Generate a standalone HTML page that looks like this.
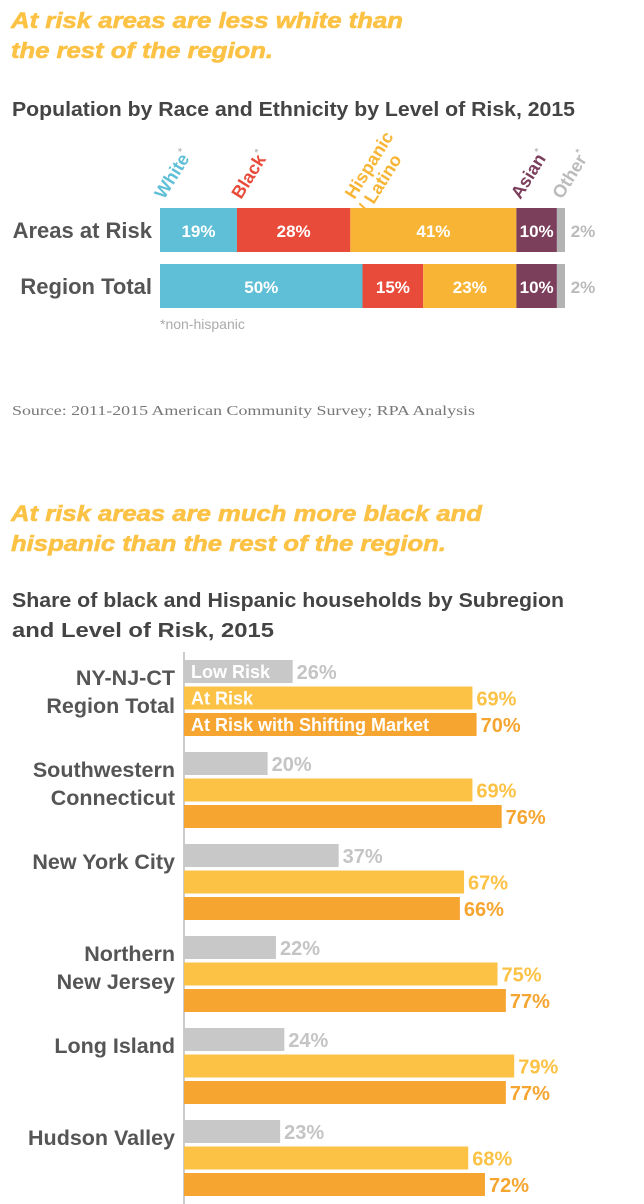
<!DOCTYPE html>
<html><head><meta charset="utf-8"><style>
body{margin:0;background:#fff;width:644px;height:1204px;overflow:hidden}
svg{display:block}
text{font-family:"Liberation Sans",sans-serif}
</style></head><body>
<svg id="c" width="644" height="1204">
<g font-weight="bold" font-style="italic" fill="#fcc245" font-size="22" stroke="#fcc245" stroke-width="0.6">
<text x="11" y="28" textLength="392" lengthAdjust="spacingAndGlyphs">At risk areas are less white than</text>
<text x="11" y="58" textLength="262" lengthAdjust="spacingAndGlyphs">the rest of the region.</text>
<text x="11" y="521" textLength="471" lengthAdjust="spacingAndGlyphs">At risk areas are much more black and</text>
<text x="11" y="551" textLength="435" lengthAdjust="spacingAndGlyphs">hispanic than the rest of the region.</text>
</g>
<g font-weight="bold" fill="#444" font-size="20">
<text x="12" y="116" textLength="563" lengthAdjust="spacingAndGlyphs">Population by Race and Ethnicity by Level of Risk, 2015</text>
<text x="12" y="607" textLength="552" lengthAdjust="spacingAndGlyphs">Share of black and Hispanic households by  Subregion</text>
<text x="12" y="637" textLength="262" lengthAdjust="spacingAndGlyphs">and Level of Risk, 2015</text>
</g>
<text x="12" y="415" font-size="14" fill="#777" textLength="463" lengthAdjust="spacingAndGlyphs" style="font-family:'Liberation Serif',serif">Source: 2011-2015 American Community Survey; RPA Analysis</text>
<text x="160" y="329" font-size="14" fill="#aaa">*non-hispanic</text>
<line x1="184" y1="652" x2="184" y2="1204" stroke="#bbb" stroke-width="1.5"/>
<g id="g1"></g><g id="g2"></g>
</svg>
<script>
const rows1 = ["Areas at Risk","Region Total"];
const cats1 = ["White","Black","Hispanic / Latino","Asian","Other"];
const atRisk = [19,28,41,10,2];
const regionTotal = [50,15,23,10,2];
const regions = [["NY-NJ-CT","Region Total"],["Southwestern","Connecticut"],["New York City"],["Northern","New Jersey"],["Long Island"],["Hudson Valley"]];
const lowRisk = [26,20,37,22,24,23];
const atRiskShare = [69,69,67,75,79,68];
const shifting = [70,76,66,77,77,72];
const seriesNames = ["Low Risk","At Risk","At Risk with Shifting Market"];

const NS="http://www.w3.org/2000/svg";
function mk(tag,attrs,parent,txt){const e=document.createElementNS(NS,tag);for(const k in attrs)e.setAttribute(k,attrs[k]);if(txt!==undefined)e.textContent=txt;parent.appendChild(e);return e;}
const g1=document.getElementById('g1'), g2=document.getElementById('g2');
const cols1=["#5ebfd6","#e94b3a","#f8b535","#7b3f5c","#b3b3b3"];
const x1=v=>160+v*4.05;
const rowY=[208,264], rowH=44;
[atRisk,regionTotal].forEach((vals,r)=>{
  const lab=mk('text',{x:152,y:rowY[r]+30,'text-anchor':'end','font-size':22,'font-weight':'bold',fill:'#555'},g1,rows1[r]);
  
  
  let acc=0;
  vals.forEach((v,i)=>{
    const rc=mk('rect',{x:x1(acc),y:rowY[r],width:x1(acc+v)-x1(acc),height:rowH,fill:cols1[i]},g1);
    
    
    const last=i===vals.length-1;
    const t=mk('text',{x:last?x1(acc+v)+18:x1(acc+v/2),y:rowY[r]+29,'text-anchor':'middle','font-size':17,'font-weight':'bold',fill:last?'#bbb':'#fff'},g1,v+'%');
    
    
    acc+=v;
  });
});
let acc=0;
const hdrCols=["#5ebfd6","#e94b3a","#f8b535","#7b3f5c","#bbb"];
atRisk.forEach((v,i)=>{
  const px=x1(acc)+(i===4?5:4);
  const t=mk('text',{x:px,y:200,'font-size':18,'font-weight':'bold',fill:hdrCols[i],transform:`rotate(-58 ${px} 200)`},g1);
  
  
  if(i===2){mk('tspan',{},t,'Hispanic');mk('tspan',{x:px-4,dy:19},t,'/ Latino');}
  else {t.textContent=cats1[i];mk('tspan',{'font-size':10,fill:'#bbb',dy:-8},t,'*');}
  acc+=v;
});

const cols2=["#c8c8c8","#fcc245","#f6a530"];
const tcols2=["#c4c4c4","#fcc245","#f6a530"];
const x2=v=>184+v*4.18;
regions.forEach((name,gi)=>{
  const gy=660+gi*92;
  name.forEach((ln,li)=>{
    const t=mk('text',{x:175,y:gy+(li===0?25:53),'text-anchor':'end','font-size':21.5,'font-weight':'bold',fill:'#555'},g2,ln);
    
    
  });
  [lowRisk,atRiskShare,shifting].forEach((arr,si)=>{
    const y=gy+si*26.5, v=arr[gi];
    const rc=mk('rect',{x:184,y:y,width:x2(v)-184,height:23,fill:cols2[si]},g2);
    
    
    const t=mk('text',{x:x2(v)+4,y:y+19,'font-size':20,'font-weight':'bold',fill:tcols2[si]},g2,v+'%');
    
    
    if(gi===0){
      const s=mk('text',{x:191,y:y+18,'font-size':18,'font-weight':'bold',fill:'#fff'},g2,seriesNames[si]);
      
      
    }
  });
});
</script>
</body></html>
